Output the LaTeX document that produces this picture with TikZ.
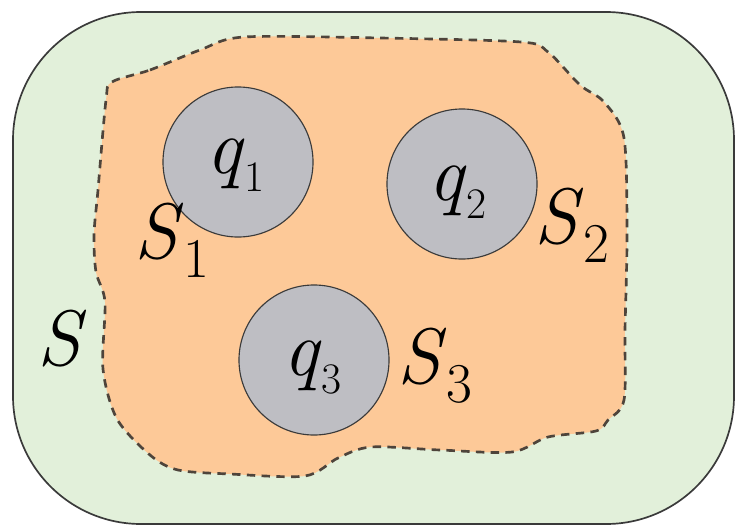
\documentclass[tikz,border=0pt]{standalone}
\usepackage{fontspec}
\usepackage{tikz}
\usetikzlibrary{positioning}

\definecolor{fondvert}{RGB}{226,240,218}
\definecolor{zoneorange}{RGB}{253,201,152}
\definecolor{chargegris}{RGB}{190,190,195}
\definecolor{traitfonce}{RGB}{58,58,58}

\newcommand{\surfS}[1]{\textit{S}\raisebox{-14pt}{\fontsize{40}{42}\selectfont #1}}
\newcommand{\chargeq}[1]{\textit{q}\raisebox{-13.5pt}{\fontsize{31}{33}\selectfont #1}}

\begin{document}
\begin{tikzpicture}[
  x=0.025cm, y=-0.025cm,
  fontgrand/.style={
    font=\fontsize{56}{60}\selectfont,
    text=black,
    inner sep=0pt,
    anchor=base west
  },
  charge/.style={
    circle,
    minimum size=3.75cm,
    inner sep=0pt,
    fill=chargegris,
    draw=traitfonce,
    line width=0.8pt
  },
  enceinte/.style={
    fill=fondvert,
    draw=traitfonce,
    line width=1.2pt,
    rounded corners=3.2cm
  },
  zone/.style={
    fill=zoneorange,
    draw=traitfonce!85!brown,
    line width=1.9pt,
    dash pattern=on 6pt off 4.5pt
  }
]
\useasboundingbox[fill=white] (0,0) rectangle (736,526);

% Surface S
\draw[enceinte] (13,12) rectangle (734,524);

% Zone en pointilles
\draw[zone] plot[smooth cycle, tension=0.5] coordinates {
  (112,82) (150,70) (200,50) (244,37) (380,38) (521,42) (548,52)
  (580,85) (604,102) (624,138) (627,235) (625,330) (624,400)
  (608,420) (596,431) (548,437) (512,452) (440,450) (371,447)
  (338,458) (305,476) (230,474) (178,470) (150,455) (117,419)
  (103,369) (105,302) (96,272) (94,235) (98,190) (106,100)
};

% Charges
\node[charge] (c1) at (238,162) {};
\node[charge] (c2) at (462,184) {};
\node[charge] (c3) at (314,360) {};

\node[fontgrand] (q1) at (206,173) {\chargeq{1}};
\node[fontgrand] (q2) at (428,200) {\chargeq{2}};
\node[fontgrand] (q3) at (283,375) {\chargeq{3}};

% Surfaces
\node[fontgrand] (s)  at (37,365)  {\textit{S}};
\node[fontgrand] (s1) at (134,258) {\surfS{1}};
\node[fontgrand] (s2) at (534,243) {\surfS{2}};
\node[fontgrand] (s3) at (397,383) {\surfS{3}};

\end{tikzpicture}
\end{document}
